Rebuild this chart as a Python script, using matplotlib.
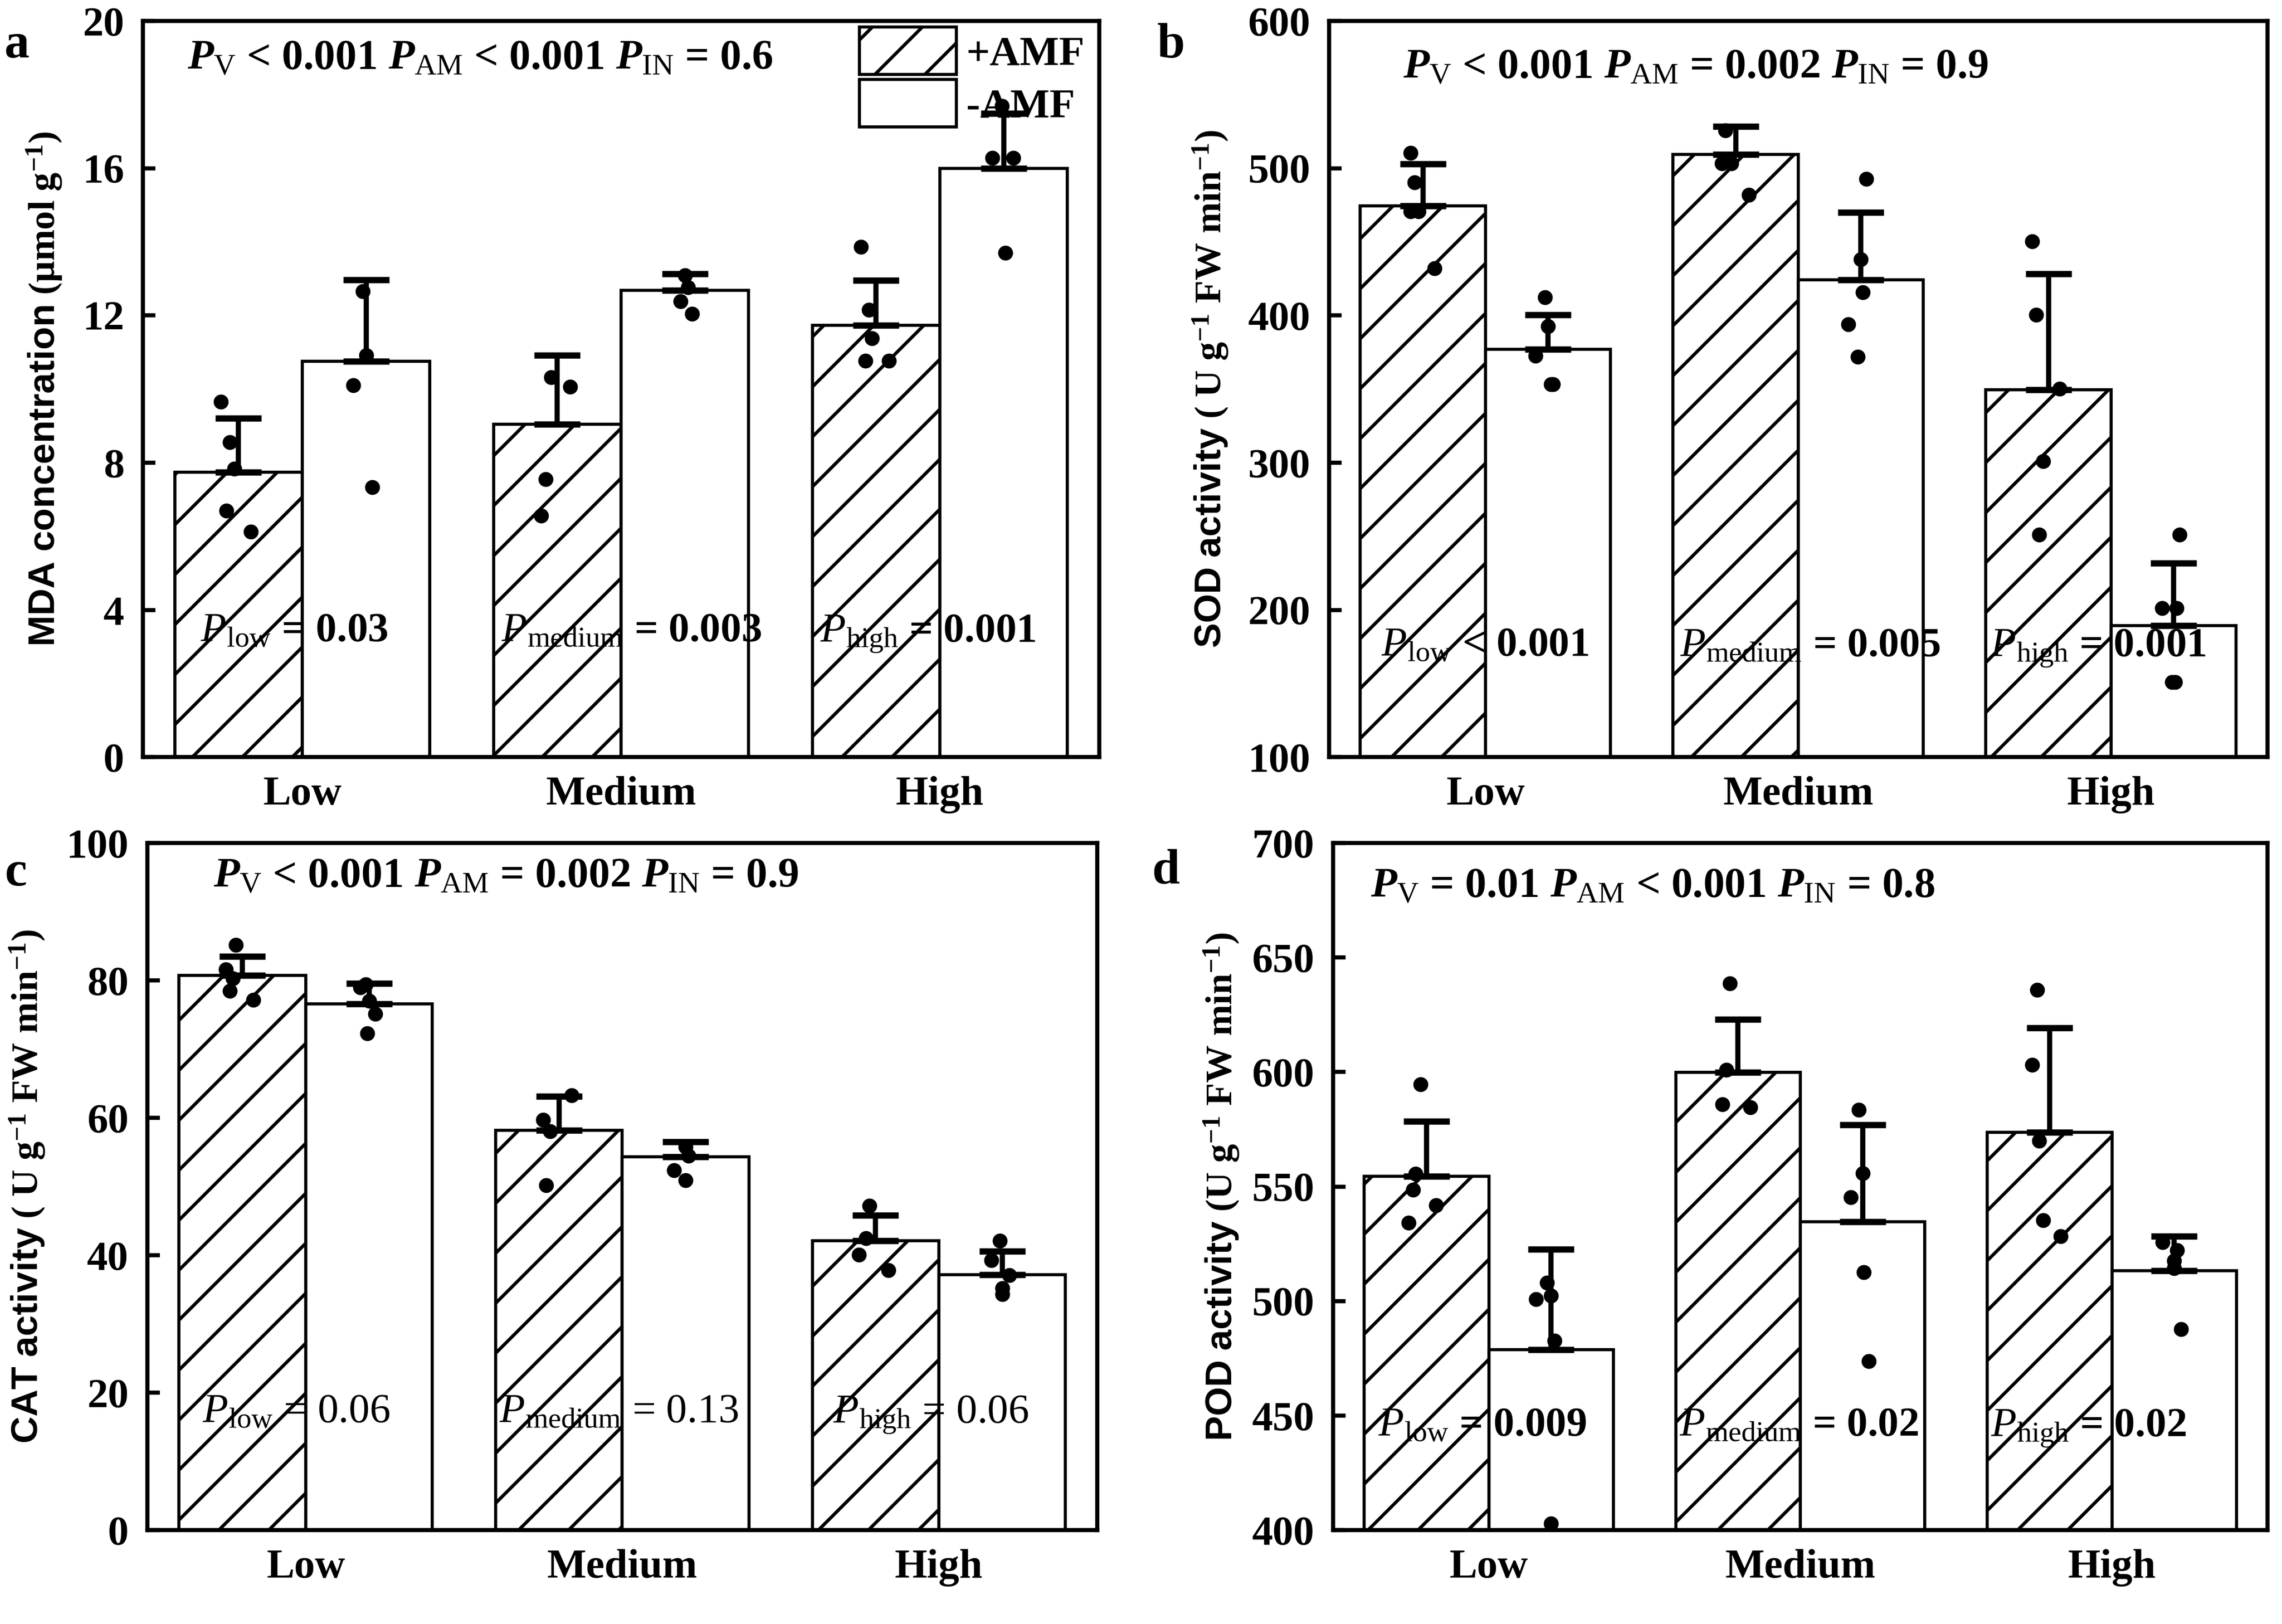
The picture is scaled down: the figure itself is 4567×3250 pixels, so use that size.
import numpy as np
import matplotlib
matplotlib.use("Agg")
import matplotlib.pyplot as plt
from matplotlib.patches import Patch

plt.rcParams['font.family'] = ['Liberation Serif', 'DejaVu Serif']
plt.rcParams['font.weight'] = 'bold'
plt.rcParams['mathtext.fontset'] = 'custom'
plt.rcParams['mathtext.rm'] = 'Liberation Serif:weight=normal'
plt.rcParams['mathtext.it'] = 'Liberation Serif:style=italic:weight=bold'
plt.rcParams['mathtext.bf'] = 'Liberation Serif:weight=bold'
plt.rcParams['mathtext.sf'] = 'Liberation Sans:weight=bold'
plt.rcParams['mathtext.tt'] = 'Liberation Serif:style=italic:weight=normal'
plt.rcParams['hatch.linewidth'] = 1.6

groups = ['Low', 'Medium', 'High']

# a - MDA
mda_amf = [7.74, 9.04, 11.74]
mda_amf_sd = [1.47, 1.88, 1.21]
mda_no = [10.75, 12.69, 16.0]
mda_no_sd = [2.22, 0.44, 1.49]
mda_amf_pts = [[9.65, 8.55, 7.84, 6.70, 6.13], [10.32, 10.06, 7.55, 6.56], [13.87, 12.16, 11.38, 10.77, 10.77]]
mda_no_pts = [[12.66, 10.92, 10.11, 7.34], [13.09, 12.76, 12.38, 12.05], [17.7, 16.28, 16.28, 13.7]]

# b - SOD
sod_amf = [474.5, 509.5, 349.6]
sod_amf_sd = [28.5, 19.0, 78.7]
sod_no = [377.0, 424.4, 189.4]
sod_no_sd = [23.4, 45.8, 42.2]
sod_amf_pts = [[510.6, 490.6, 470.9, 470.9, 431.9], [525.6, 503.4, 503.4, 482.0], [450.5, 400.4, 350.4, 301.0, 251.0]]
sod_no_pts = [[412.2, 392.6, 372.5, 353.2, 353.2], [492.7, 438.0, 415.8, 394.0, 371.8], [251.0, 201.2, 201.2, 151.1, 151.1]]

# c - CAT
cat_amf = [80.7, 58.2, 42.1]
cat_amf_sd = [2.8, 4.9, 3.7]
cat_no = [76.6, 54.3, 37.2]
cat_no_sd = [2.95, 2.25, 3.4]
cat_amf_pts = [[85.2, 81.6, 80.3, 78.5, 77.2], [63.3, 59.7, 58.05, 50.2], [47.2, 42.5, 40.1, 37.8]]
cat_no_pts = [[79.4, 79.0, 77.0, 75.1, 72.3], [55.8, 54.5, 52.4, 50.9], [42.1, 39.3, 37.1, 35.2, 34.3]]

# d - POD
pod_amf = [554.4, 599.8, 573.7]
pod_amf_sd = [24.0, 23.2, 45.7]
pod_no = [478.8, 534.6, 513.2]
pod_no_sd = [43.8, 42.3, 15.1]
pod_amf_pts = [[594.6, 555.5, 548.7, 541.8, 534.1], [638.7, 600.9, 585.9, 584.5], [635.8, 603.2, 569.9, 535.2, 528.3]]
pod_no_pts = [[508.0, 500.8, 502.4, 482.8, 402.9], [583.6, 555.9, 545.4, 512.7, 473.8], [525.6, 522.2, 517.7, 514.3, 487.8]]

top_texts = [
    r'$P_{\mathrm{V}}$ < 0.001 $P_{\mathrm{AM}}$ < 0.001 $P_{\mathrm{IN}}$ = 0.6',
    r'$P_{\mathrm{V}}$ < 0.001 $P_{\mathrm{AM}}$ = 0.002 $P_{\mathrm{IN}}$ = 0.9',
    r'$P_{\mathrm{V}}$ < 0.001 $P_{\mathrm{AM}}$ = 0.002 $P_{\mathrm{IN}}$ = 0.9',
    r'$P_{\mathrm{V}}$ = 0.01 $P_{\mathrm{AM}}$ < 0.001 $P_{\mathrm{IN}}$ = 0.8',
]
sub_names = ['low', 'medium', 'high']
bottom_vals = [
    ['= 0.03', '= 0.003', '= 0.001'],
    ['< 0.001', '= 0.005', '= 0.001'],
    ['= 0.06', '= 0.13', '= 0.06'],
    ['= 0.009', '= 0.02', '= 0.02'],
]

ylabels = [
    r'$\mathsf{MDA\ concentration}$ (μmol g$^{\mathbf{-1}}$)',
    r'$\mathsf{SOD\ activity}$ ( U g$^{\mathbf{-1}}$ FW min$^{\mathbf{-1}}$)',
    r'$\mathsf{CAT\ activity}$ ( U g$^{\mathbf{-1}}$ FW min$^{\mathbf{-1}}$)',
    r'$\mathsf{POD\ activity}$ (U g$^{\mathbf{-1}}$ FW min$^{\mathbf{-1}}$)',
]

# jitter of the replicate dots around each bar centre
jit_amf = [
    [[-0.055, -0.027, -0.013, -0.038, 0.038], [-0.02, 0.04, -0.037, -0.05], [-0.048, -0.022, -0.013, -0.034, 0.04]],
    [[-0.04, -0.026, -0.04, -0.014, 0.037], [-0.033, -0.044, -0.014, 0.042], [-0.052, -0.04, 0.036, -0.017, -0.03]],
    [[-0.02, -0.052, -0.03, -0.04, 0.034], [0.04, -0.05, -0.028, -0.04], [-0.02, -0.03, -0.053, 0.04]],
    [[-0.02, -0.035, -0.044, 0.03, -0.058], [-0.026, -0.037, -0.05, 0.04], [-0.04, -0.056, -0.033, -0.02, 0.035]],
]
jit_no = [
    [[-0.01, 0.0, -0.04, 0.02], [0.0, 0.01, -0.013, 0.022], [-0.006, -0.036, 0.03, 0.006]],
    [[-0.01, 0.0, -0.04, 0.01, 0.016], [0.017, 0.0, 0.006, -0.04, -0.01], [0.02, -0.037, 0.01, -0.005, 0.005]],
    [[-0.01, -0.028, 0.0, 0.02, -0.005], [0.0, 0.01, -0.037, 0.0], [-0.007, -0.035, 0.023, 0.0, 0.0]],
    [[-0.013, -0.048, 0.0, 0.01, 0.0], [-0.013, 0.0, -0.038, 0.003, 0.02], [-0.038, 0.01, 0.0, 0.0, 0.022]],
]

panels = [
    dict(amf=mda_amf, amf_sd=mda_amf_sd, no=mda_no, no_sd=mda_no_sd, amf_pts=mda_amf_pts, no_pts=mda_no_pts,
         ylim=(0, 20), yticks=np.arange(0, 21, 4), rect=[0.0626, 0.5338, 0.4191, 0.4532],
         top_xy=(-0.36, 18.7), bot_y=3.15, bot_dx=[-0.32, -0.376, -0.376], bot_bold=True,
         letter='a', letter_xy=(0.002, 0.9646), ylab_x=-0.082),
    dict(amf=sod_amf, amf_sd=sod_amf_sd, no=sod_no, no_sd=sod_no_sd, amf_pts=sod_amf_pts, no_pts=sod_no_pts,
         ylim=(100, 600), yticks=np.arange(100, 601, 100), rect=[0.5824, 0.5338, 0.4112, 0.4532],
         top_xy=(-0.264, 561.4), bot_y=168.7, bot_dx=[-0.333, -0.379, -0.386], bot_bold=True,
         letter='b', letter_xy=(0.507, 0.9646), ylab_x=-0.105),
    dict(amf=cat_amf, amf_sd=cat_amf_sd, no=cat_no, no_sd=cat_no_sd, amf_pts=cat_amf_pts, no_pts=cat_no_pts,
         ylim=(0, 100), yticks=np.arange(0, 101, 20), rect=[0.0646, 0.0578, 0.4162, 0.4231],
         top_xy=(-0.292, 93.6), bot_y=15.7, bot_dx=[-0.327, -0.389, -0.334], bot_bold=False,
         letter='c', letter_xy=(0.002, 0.4548), ylab_x=-0.105),
    dict(amf=pod_amf, amf_sd=pod_amf_sd, no=pod_no, no_sd=pod_no_sd, amf_pts=pod_amf_pts, no_pts=pod_no_pts,
         ylim=(400, 700), yticks=np.arange(400, 701, 50), rect=[0.5842, 0.0578, 0.4095, 0.4231],
         top_xy=(-0.38, 676.3), bot_y=441.2, bot_dx=[-0.356, -0.389, -0.389], bot_bold=True,
         letter='d', letter_xy=(0.505, 0.4563), ylab_x=-0.098),
]

fig = plt.figure(figsize=(4567 / 300, 3250 / 300), dpi=300)

x = np.arange(len(groups))
w = 0.4
fs = 20

for k, p in enumerate(panels):
    ax = fig.add_axes(p['rect'])
    base = p['ylim'][0]
    amf_h = np.array(p['amf']) - base
    no_h = np.array(p['no']) - base
    ax.bar(x - w / 2, amf_h, w, bottom=base, color='white', edgecolor='black',
           hatch='/', linewidth=1.5, zorder=2)
    ax.bar(x + w / 2, no_h, w, bottom=base, color='white', edgecolor='black',
           linewidth=1.5, zorder=2)
    ax.errorbar(x - w / 2, p['amf'], yerr=[np.zeros(3), p['amf_sd']], fmt='none', ecolor='black',
                elinewidth=2.5, capsize=11, capthick=3, zorder=3)
    ax.errorbar(x + w / 2, p['no'], yerr=[np.zeros(3), p['no_sd']], fmt='none', ecolor='black',
                elinewidth=2.5, capsize=11, capthick=3, zorder=3)
    for i in range(3):
        ax.scatter(x[i] - w / 2 + np.array(jit_amf[k][i]), p['amf_pts'][i], s=38, color='black',
                   zorder=4, clip_on=False)
        ax.scatter(x[i] + w / 2 + np.array(jit_no[k][i]), p['no_pts'][i], s=38, color='black',
                   zorder=4, clip_on=False)

    ax.set_xlim(-0.5, 2.5)
    ax.set_ylim(*p['ylim'])
    ax.set_yticks(p['yticks'])
    ax.set_xticks(x)
    ax.set_xticklabels(groups, fontsize=fs, fontweight='bold')
    ax.tick_params(axis='x', length=0, pad=9)
    ax.tick_params(axis='y', direction='in', length=6, width=2, labelsize=fs, pad=9)
    for lab in ax.get_yticklabels():
        lab.set_fontweight('bold')
    for s in ax.spines.values():
        s.set_linewidth(2)

    ax.set_ylabel(ylabels[k], fontsize=18, fontweight='bold')
    ax.yaxis.set_label_coords(p['ylab_x'], 0.5)

    ax.text(p['top_xy'][0], p['top_xy'][1], top_texts[k], fontsize=20.5, fontweight='bold',
            va='baseline', ha='left', zorder=5)
    for i in range(3):
        t = r'$\mathtt{P}_{\mathrm{' + sub_names[i] + '}}$ ' + bottom_vals[k][i]
        ax.text(x[i] + p['bot_dx'][i], p['bot_y'], t, fontsize=fs,
                fontweight='bold' if p['bot_bold'] else 'normal', va='baseline', ha='left', zorder=5)

    fig.text(p['letter_xy'][0], p['letter_xy'][1], p['letter'], fontsize=24, fontweight='bold',
             va='baseline', ha='left')

    if k == 0:
        handles = [Patch(facecolor='white', edgecolor='black', hatch='/', linewidth=1.5),
                   Patch(facecolor='white', edgecolor='black', linewidth=1.5)]
        ax.legend(handles, ['+AMF', '-AMF'], loc='upper right', bbox_to_anchor=(0.985, 0.992),
                  frameon=False, fontsize=fs, handlelength=2.33, handleheight=1.37,
                  labelspacing=0.13, handletextpad=0.24, borderaxespad=0, borderpad=0)

fig.savefig('out.png', dpi=300)
